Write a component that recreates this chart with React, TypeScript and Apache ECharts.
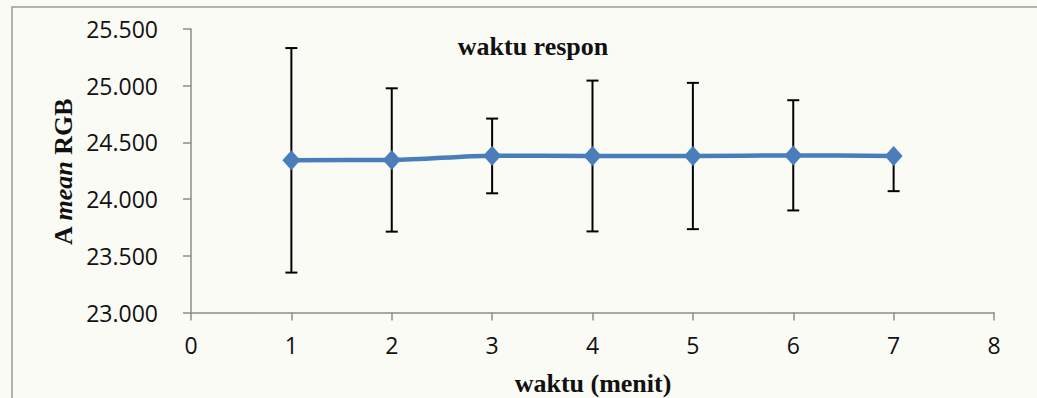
import React, { useEffect, useRef } from "react";
import * as echarts from "echarts";

const xValues = [1, 2, 3, 4, 5, 6, 7];
const meanValues = [24.342, 24.345, 24.383, 24.38, 24.38, 24.385, 24.38];
const errPlus = [0.99, 0.632, 0.327, 0.665, 0.645, 0.487, 0];
const errMinus = [0.99, 0.632, 0.332, 0.665, 0.645, 0.485, 0.31];
const xTicks = [0, 1, 2, 3, 4, 5, 6, 7, 8];
const yTicks = [23, 23.5, 24, 24.5, 25, 25.5];
const titleText = "waktu respon";
const xName = "waktu (menit)";

export default function App() {
  const ref = useRef<HTMLDivElement>(null);
  useEffect(() => {
    if (!ref.current) return;
    const chart = echarts.init(ref.current, null, { renderer: "svg" });
    const lineData = xValues.map((x, i) => [x, meanValues[i]]);
    const errData = xValues.map((x, i) => [
      x,
      meanValues[i],
      meanValues[i] + errPlus[i],
      meanValues[i] - errMinus[i],
    ]);
    const tickFont = "'Open Sans', sans-serif";
    const serif = "'Liberation Serif', 'Times New Roman', serif";
    chart.setOption({
      animation: false,
      backgroundColor: "#fbfbf6",
      grid: { left: 191, right: 43, top: 29, bottom: 85.5, containLabel: false },
      xAxis: {
        type: "value",
        min: xTicks[0],
        max: xTicks[xTicks.length - 1],
        interval: 1,
        axisLine: { show: true, lineStyle: { color: "#8c8c8c", width: 1.5 } },
        axisTick: { show: true, length: 8, lineStyle: { color: "#8c8c8c", width: 1.5 } },
        splitLine: { show: false },
        axisLabel: { color: "#111", fontFamily: tickFont, fontSize: 23, margin: 21 },
      },
      yAxis: {
        type: "value",
        min: yTicks[0],
        max: yTicks[yTicks.length - 1],
        interval: 0.5,
        axisLine: { show: true, lineStyle: { color: "#8c8c8c", width: 1.5 } },
        axisTick: { show: true, length: 8, lineStyle: { color: "#8c8c8c", width: 1.5 } },
        splitLine: { show: false },
        axisLabel: {
          color: "#111",
          fontFamily: tickFont,
          fontSize: 23,
          margin: 33,
          formatter: (v: number) => v.toFixed(3),
        },
      },
      graphic: [
        {
          type: "rect",
          shape: { x: 12, y: 7, width: 1200, height: 600 },
          style: { fill: "none", stroke: "#9a9a9a", lineWidth: 1.5 },
          z: 100,
        },
        {
          type: "text",
          x: 533,
          y: 46,
          style: {
            text: titleText,
            font: `bold 26px ${serif}`,
            fill: "#111",
            textAlign: "center",
            textVerticalAlign: "middle",
          },
        },
        {
          type: "text",
          x: 593,
          y: 383,
          style: {
            text: xName,
            font: `bold 26px ${serif}`,
            fill: "#111",
            textAlign: "center",
            textVerticalAlign: "middle",
          },
        },
        {
          type: "text",
          x: 63,
          y: 172,
          rotation: Math.PI / 2,
          style: {
            text: "{a|A }{b|mean}{a| RGB}",
            textAlign: "center",
            textVerticalAlign: "middle",
            rich: {
              a: { font: `bold 26px ${serif}`, fill: "#111" },
              b: { font: `italic bold 26px ${serif}`, fill: "#111" },
            },
          },
        },
      ],
      series: [
        {
          type: "custom",
          z: 1,
          data: errData,
          renderItem: (params: any, api: any) => {
            const x = api.value(0);
            const y = api.value(1);
            const hi = api.value(2);
            const lo = api.value(3);
            const pHi = api.coord([x, hi]);
            const pLo = api.coord([x, lo]);
            const half = 6;
            const st = { stroke: "#000", lineWidth: 2 };
            const children: any[] = [
              { type: "line", shape: { x1: pHi[0], y1: pHi[1], x2: pLo[0], y2: pLo[1] }, style: st },
            ];
            if (hi > y)
              children.push({
                type: "line",
                shape: { x1: pHi[0] - half, y1: pHi[1], x2: pHi[0] + half, y2: pHi[1] },
                style: st,
              });
            if (lo < y)
              children.push({
                type: "line",
                shape: { x1: pLo[0] - half, y1: pLo[1], x2: pLo[0] + half, y2: pLo[1] },
                style: st,
              });
            return { type: "group", children };
          },
        },
        {
          type: "line",
          z: 5,
          data: lineData,
          smooth: 0.3,
          smoothMonotone: "x",
          symbol: "diamond",
          symbolSize: [18, 20],
          lineStyle: { color: "#4a7ebb", width: 4.5 },
          itemStyle: { color: "#4a7ebb" },
        },
      ],
    });
    return () => chart.dispose();
  }, []);
  return (
    <div
      ref={ref}
      style={{ position: "fixed", left: 0, top: 0, width: 1037, height: 398 }}
    />
  );
}
